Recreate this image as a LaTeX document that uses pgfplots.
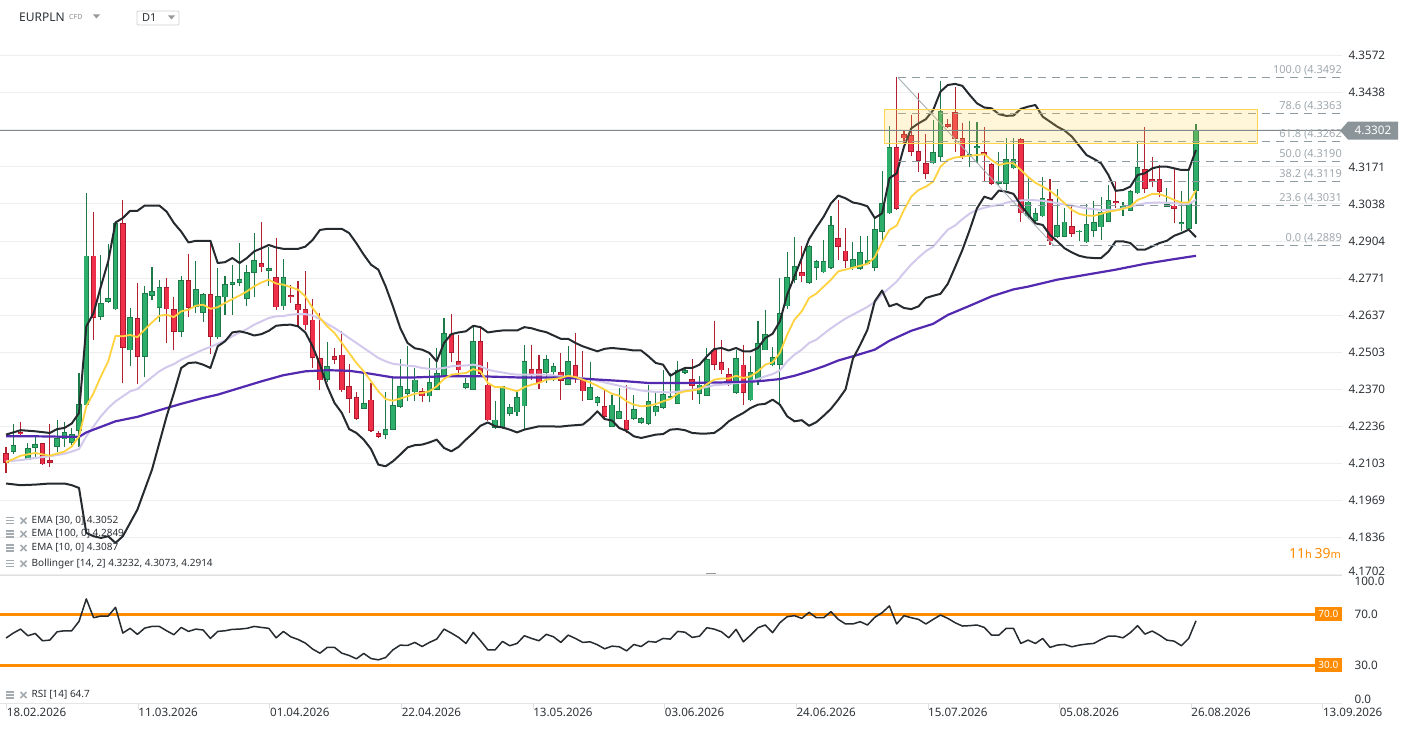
\documentclass[border=0pt]{standalone}
\usepackage{fontspec}
\setmainfont{Noto Sans}
\usepackage{pgfplots}
\usepackage{pgfplotstable}
\pgfplotsset{compat=1.18}

\definecolor{gfill}{HTML}{2DAE6A}
\definecolor{gedge}{HTML}{1D7A48}
\definecolor{rfill}{HTML}{F0304A}
\definecolor{redge}{HTML}{A8192B}
\definecolor{gwick}{HTML}{1D7A48}
\definecolor{rwick}{HTML}{B3202F}
\definecolor{ema10}{HTML}{FFD23F}
\definecolor{ema30}{HTML}{D3C9EC}
\definecolor{ema100}{HTML}{5329B0}
\definecolor{boll}{HTML}{252A2F}
\definecolor{gridc}{HTML}{EEEEEE}
\definecolor{fibc}{HTML}{8F9BA2}
\definecolor{fibt}{HTML}{A0A9AE}
\definecolor{zone}{HTML}{FFD54F}
\definecolor{pricec}{HTML}{7F8A8F}
\definecolor{tagc}{HTML}{8A9499}
\definecolor{rsio}{HTML}{FF8C00}
\definecolor{txt}{HTML}{2E3338}
\definecolor{icon}{HTML}{A3ABB0}
\definecolor{rsiline}{HTML}{262B30}

\pgfplotstableread{
k o h l c
2 4.2146 4.2244 4.2138 4.2170
4 4.2116 4.2176 4.2114 4.2158
5 4.2160 4.2200 4.2128 4.2172
8 4.2162 4.2260 4.2146 4.2194
9 4.2190 4.2254 4.2164 4.2216
10 4.2176 4.2230 4.2170 4.2208
11 4.2220 4.2430 4.2164 4.2316
12 4.2312 4.3076 4.2310 4.2852
14 4.2632 4.2854 4.2620 4.2680
15 4.2686 4.2892 4.2680 4.2698
16 4.2658 4.2970 4.2656 4.2968
18 4.2510 4.2662 4.2454 4.2630
20 4.2488 4.2742 4.2414 4.2716
21 4.2708 4.2812 4.2692 4.2724
22 4.2662 4.2764 4.2614 4.2738
25 4.2578 4.2778 4.2560 4.2764
27 4.2668 4.2834 4.2644 4.2730
28 4.2646 4.2716 4.2614 4.2714
30 4.2557 4.2807 4.2551 4.2705
31 4.2701 4.2777 4.2639 4.2749
32 4.2745 4.2818 4.2639 4.2756
33 4.2752 4.2896 4.2741 4.2767
34 4.2695 4.2818 4.2671 4.2793
35 4.2789 4.2932 4.2701 4.2835
37 4.2798 4.2884 4.2741 4.2807
39 4.2669 4.2839 4.2657 4.2774
45 4.2405 4.2539 4.2395 4.2453
50 4.2299 4.2431 4.2299 4.2321
53 4.2207 4.2360 4.2191 4.2227
54 4.2225 4.2417 4.2222 4.2312
55 4.2307 4.2479 4.2303 4.2381
56 4.2354 4.2525 4.2327 4.2371
57 4.2359 4.2447 4.2327 4.2405
59 4.2345 4.2483 4.2324 4.2396
60 4.2369 4.2519 4.2366 4.2429
61 4.2417 4.2627 4.2414 4.2573
64 4.2375 4.2411 4.2371 4.2393
65 4.2369 4.2599 4.2366 4.2545
68 4.2231 4.2329 4.2229 4.2261
69 4.2231 4.2383 4.2229 4.2381
70 4.2281 4.2318 4.2273 4.2306
71 4.2287 4.2366 4.2273 4.2342
72 4.2309 4.2531 4.2229 4.2473
75 4.2429 4.2495 4.2393 4.2479
76 4.2431 4.2465 4.2399 4.2455
78 4.2387 4.2525 4.2384 4.2473
81 4.2333 4.2467 4.2330 4.2378
82 4.2321 4.2347 4.2309 4.2341
84 4.2235 4.2351 4.2235 4.2315
85 4.2263 4.2375 4.2263 4.2293
87 4.2263 4.2351 4.2261 4.2299
88 4.2249 4.2269 4.2247 4.2267
89 4.2245 4.2387 4.2243 4.2329
90 4.2287 4.2363 4.2273 4.2311
91 4.2303 4.2438 4.2299 4.2354
92 4.2339 4.2429 4.2333 4.2345
93 4.2318 4.2471 4.2318 4.2438
94 4.2429 4.2446 4.2426 4.2438
96 4.2353 4.2417 4.2318 4.2387
97 4.2347 4.2519 4.2345 4.2479
101 4.2357 4.2513 4.2355 4.2483
103 4.2330 4.2491 4.2327 4.2432
104 4.2405 4.2615 4.2387 4.2537
105 4.2510 4.2657 4.2510 4.2569
106 4.2456 4.2521 4.2453 4.2486
107 4.2459 4.2771 4.2309 4.2645
108 4.2669 4.2863 4.2659 4.2774
109 4.2765 4.2920 4.2753 4.2815
111 4.2753 4.2891 4.2750 4.2887
112 4.2807 4.2837 4.2765 4.2833
113 4.2791 4.2908 4.2789 4.2833
114 4.2807 4.2995 4.2804 4.2962
117 4.2807 4.2899 4.2801 4.2839
118 4.2803 4.2921 4.2801 4.2863
119 4.2822 4.2921 4.2819 4.2837
120 4.2807 4.2983 4.2795 4.2947
121 4.2936 4.3157 4.2903 4.3040
122 4.3004 4.3319 4.3002 4.3242
128 4.3184 4.3340 4.3182 4.3224
129 4.3208 4.3481 4.3187 4.3373
133 4.3208 4.3337 4.3169 4.3217
134 4.3238 4.3334 4.3184 4.3247
137 4.3109 4.3226 4.3106 4.3118
138 4.3109 4.3274 4.3088 4.3199
139 4.3166 4.3274 4.3163 4.3199
141 4.2993 4.3130 4.2983 4.3046
142 4.2978 4.3022 4.2974 4.3004
143 4.2993 4.3136 4.2990 4.3059
145 4.2918 4.3091 4.2915 4.2962
146 4.2918 4.3022 4.2917 4.2974
148 4.2936 4.2945 4.2903 4.2942
149 4.2899 4.3038 4.2897 4.2966
150 4.2942 4.3047 4.2920 4.2972
151 4.2953 4.3064 4.2909 4.3010
152 4.2972 4.3106 4.2971 4.3052
154 4.3020 4.3043 4.2993 4.3032
155 4.3014 4.3089 4.3014 4.3085
156 4.3076 4.3259 4.3074 4.3170
160 4.3028 4.3094 4.3028 4.3037
162 4.2965 4.3085 4.2939 4.2972
163 4.2948 4.3155 4.2947 4.3041
164 4.3086 4.3326 4.2966 4.3302
}\up

\pgfplotstableread{
k o h l c
1 4.2140 4.2164 4.2070 4.2104
3 4.2216 4.2252 4.2206 4.2208
6 4.2176 4.2178 4.2098 4.2100
7 4.2116 4.2244 4.2092 4.2106
13 4.2852 4.3008 4.2546 4.2626
17 4.2968 4.3052 4.2392 4.2518
19 4.2626 4.2752 4.2390 4.2488
23 4.2738 4.2770 4.2536 4.2658
24 4.2658 4.2702 4.2510 4.2578
26 4.2764 4.2858 4.2632 4.2664
29 4.2714 4.2902 4.2498 4.2558
36 4.2825 4.2972 4.2791 4.2809
38 4.2774 4.2914 4.2657 4.2665
40 4.2709 4.2747 4.2681 4.2701
41 4.2677 4.2759 4.2597 4.2654
42 4.2659 4.2795 4.2585 4.2600
43 4.2621 4.2695 4.2447 4.2483
44 4.2483 4.2645 4.2366 4.2402
46 4.2491 4.2519 4.2462 4.2477
47 4.2495 4.2581 4.2359 4.2366
48 4.2383 4.2461 4.2285 4.2335
49 4.2342 4.2359 4.2261 4.2263
51 4.2333 4.2393 4.2215 4.2219
52 4.2213 4.2221 4.2195 4.2199
58 4.2365 4.2375 4.2324 4.2345
62 4.2569 4.2641 4.2467 4.2501
63 4.2473 4.2567 4.2423 4.2438
66 4.2545 4.2597 4.2422 4.2426
67 4.2387 4.2467 4.2255 4.2258
73 4.2444 4.2531 4.2405 4.2423
74 4.2444 4.2495 4.2371 4.2393
77 4.2432 4.2501 4.2330 4.2401
79 4.2458 4.2573 4.2393 4.2411
80 4.2411 4.2507 4.2327 4.2363
83 4.2311 4.2371 4.2267 4.2271
86 4.2261 4.2387 4.2213 4.2225
95 4.2407 4.2479 4.2333 4.2383
98 4.2513 4.2617 4.2441 4.2459
99 4.2468 4.2549 4.2426 4.2438
100 4.2425 4.2447 4.2383 4.2399
102 4.2459 4.2528 4.2315 4.2357
110 4.2792 4.2888 4.2755 4.2777
115 4.2914 4.3052 4.2836 4.2884
116 4.2870 4.2950 4.2807 4.2834
123 4.3242 4.3496 4.3015 4.3019
124 4.3290 4.3304 4.3256 4.3274
125 4.3286 4.3358 4.3211 4.3224
126 4.3229 4.3436 4.3154 4.3194
127 4.3184 4.3290 4.3127 4.3145
130 4.3326 4.3343 4.3310 4.3316
131 4.3368 4.3458 4.3223 4.3271
132 4.3274 4.3328 4.3200 4.3212
135 4.3223 4.3316 4.3122 4.3214
136 4.3181 4.3184 4.3106 4.3109
140 4.3271 4.3274 4.2974 4.3004
144 4.3055 4.3128 4.2891 4.2903
147 4.2959 4.3034 4.2920 4.2930
153 4.3049 4.3118 4.3022 4.3040
157 4.3163 4.3316 4.3076 4.3091
158 4.3128 4.3205 4.3100 4.3116
159 4.3128 4.3178 4.3064 4.3080
161 4.3032 4.3166 4.2968 4.3019
}\down

\pgfplotstableread{
k v
1 4.2207
3 4.2223
5 4.2219
7 4.2213
8 4.2227
9 4.2231
10 4.2247
11 4.2285
12 4.2597
13 4.2645
14 4.2741
15 4.2831
16 4.2971
17 4.2987
18 4.3013
19 4.3013
20 4.3032
22 4.3032
23 4.3010
24 4.2969
25 4.2938
26 4.2899
27 4.2905
29 4.2905
30 4.2825
31 4.2828
32 4.2843
33 4.2825
34 4.2843
35 4.2867
36 4.2878
37 4.2890
38 4.2881
39 4.2876
41 4.2876
42 4.2884
43 4.2908
44 4.2944
45 4.2948
47 4.2948
48 4.2933
49 4.2896
50 4.2855
51 4.2819
52 4.2801
53 4.2741
54 4.2669
55 4.2591
56 4.2537
57 4.2518
58 4.2513
59 4.2501
60 4.2471
61 4.2537
62 4.2569
63 4.2575
64 4.2579
65 4.2599
66 4.2594
67 4.2575
68 4.2579
69 4.2582
71 4.2582
72 4.2594
73 4.2590
74 4.2582
75 4.2576
76 4.2564
77 4.2552
78 4.2552
79 4.2537
80 4.2525
81 4.2516
82 4.2507
83 4.2516
84 4.2519
86 4.2514
87 4.2510
88 4.2510
89 4.2489
90 4.2465
91 4.2459
92 4.2419
93 4.2435
94 4.2447
95 4.2447
96 4.2459
97 4.2489
98 4.2515
99 4.2519
100 4.2510
101 4.2519
102 4.2507
103 4.2507
104 4.2519
105 4.2555
106 4.2570
107 4.2615
108 4.2711
109 4.2777
110 4.2843
111 4.2911
112 4.2953
113 4.2992
114 4.3040
115 4.3068
116 4.3058
117 4.3043
118 4.3038
119 4.3029
120 4.2987
121 4.3004
122 4.3130
123 4.3148
124 4.3244
125 4.3310
126 4.3328
127 4.3343
128 4.3376
129 4.3442
130 4.3466
131 4.3470
132 4.3463
133 4.3430
134 4.3400
135 4.3385
136 4.3382
137 4.3361
138 4.3355
139 4.3356
140 4.3380
141 4.3388
142 4.3394
143 4.3352
144 4.3334
145 4.3316
146 4.3302
147 4.3280
148 4.3247
149 4.3214
150 4.3200
151 4.3184
152 4.3142
153 4.3085
154 4.3088
155 4.3100
156 4.3142
157 4.3148
158 4.3166
159 4.3172
160 4.3172
161 4.3166
162 4.3160
163 4.3160
164 4.3232
}\bollup

\pgfplotstableread{
k v
1 4.2031
3 4.2025
5 4.2027
7 4.2031
9 4.2031
10 4.2025
11 4.2015
12 4.1853
13 4.1841
14 4.1835
15 4.1841
16 4.1817
17 4.1841
18 4.1889
19 4.1937
20 4.2009
21 4.2081
22 4.2177
23 4.2273
24 4.2357
25 4.2447
26 4.2465
27 4.2467
28 4.2459
29 4.2447
30 4.2525
31 4.2543
32 4.2575
33 4.2579
34 4.2573
35 4.2564
36 4.2569
37 4.2581
38 4.2599
39 4.2602
40 4.2603
41 4.2597
42 4.2575
43 4.2525
44 4.2459
45 4.2381
46 4.2321
47 4.2285
48 4.2227
49 4.2213
50 4.2189
51 4.2155
52 4.2099
53 4.2093
54 4.2111
55 4.2135
56 4.2161
57 4.2169
58 4.2171
59 4.2179
60 4.2189
61 4.2159
62 4.2147
63 4.2163
64 4.2189
65 4.2213
66 4.2239
67 4.2251
68 4.2237
69 4.2233
70 4.2225
71 4.2215
72 4.2225
73 4.2231
74 4.2237
77 4.2236
78 4.2239
80 4.2243
81 4.2264
82 4.2291
83 4.2263
84 4.2258
85 4.2231
86 4.2220
87 4.2201
88 4.2195
89 4.2201
90 4.2207
91 4.2209
92 4.2225
93 4.2227
94 4.2223
95 4.2213
96 4.2211
97 4.2211
98 4.2213
99 4.2231
100 4.2255
101 4.2271
102 4.2285
103 4.2303
104 4.2315
105 4.2318
106 4.2333
107 4.2315
108 4.2273
109 4.2255
110 4.2259
111 4.2239
112 4.2252
113 4.2275
114 4.2300
115 4.2333
116 4.2370
117 4.2480
118 4.2530
119 4.2585
120 4.2687
121 4.2726
122 4.2669
123 4.2678
124 4.2663
125 4.2659
126 4.2669
127 4.2699
128 4.2707
129 4.2714
130 4.2750
131 4.2810
132 4.2872
133 4.2944
134 4.3022
135 4.3064
136 4.3055
137 4.3086
138 4.3082
139 4.3074
140 4.3034
141 4.3000
142 4.2968
143 4.2962
144 4.2926
145 4.2903
146 4.2878
147 4.2863
148 4.2851
149 4.2845
150 4.2843
151 4.2843
152 4.2866
153 4.2903
154 4.2903
155 4.2897
156 4.2873
157 4.2873
158 4.2885
159 4.2897
160 4.2905
161 4.2923
162 4.2933
163 4.2945
164 4.2918
}\bolllo

\pgfplotstableread{
k v
1 4.2107
3 4.2131
5 4.2141
7 4.2131
9 4.2146
10 4.2164
11 4.2201
12 4.2309
13 4.2357
14 4.2417
15 4.2471
16 4.2563
17 4.2561
18 4.2566
19 4.2558
20 4.2585
21 4.2611
22 4.2635
23 4.2639
24 4.2630
25 4.2651
26 4.2657
27 4.2671
28 4.2675
29 4.2660
30 4.2666
31 4.2681
32 4.2695
33 4.2708
34 4.2723
35 4.2741
36 4.2755
37 4.2765
38 4.2751
39 4.2747
40 4.2738
41 4.2729
42 4.2705
43 4.2663
44 4.2627
45 4.2597
46 4.2573
47 4.2537
48 4.2501
49 4.2465
50 4.2435
51 4.2399
52 4.2363
53 4.2335
54 4.2329
55 4.2337
56 4.2345
57 4.2354
58 4.2357
59 4.2363
60 4.2381
61 4.2408
62 4.2423
63 4.2426
64 4.2429
65 4.2443
66 4.2435
67 4.2393
68 4.2378
69 4.2378
70 4.2371
71 4.2363
72 4.2378
73 4.2387
74 4.2393
75 4.2405
76 4.2407
77 4.2411
78 4.2419
79 4.2414
80 4.2405
81 4.2395
82 4.2383
83 4.2369
84 4.2354
85 4.2347
86 4.2327
87 4.2315
88 4.2309
89 4.2311
90 4.2317
91 4.2327
92 4.2335
93 4.2355
94 4.2363
95 4.2366
96 4.2371
97 4.2389
98 4.2405
99 4.2409
100 4.2409
101 4.2419
102 4.2411
103 4.2417
104 4.2435
105 4.2459
106 4.2467
107 4.2501
108 4.2567
109 4.2621
110 4.2651
111 4.2699
112 4.2715
113 4.2740
114 4.2765
115 4.2795
117 4.2808
119 4.2822
120 4.2846
121 4.2900
122 4.2944
123 4.2960
124 4.3016
125 4.3064
126 4.3088
127 4.3100
128 4.3118
129 4.3172
130 4.3196
131 4.3205
132 4.3208
133 4.3211
134 4.3214
135 4.3217
136 4.3196
137 4.3178
138 4.3184
139 4.3184
140 4.3160
141 4.3135
142 4.3114
143 4.3100
144 4.3085
145 4.3064
146 4.3040
147 4.3016
148 4.3002
149 4.2996
150 4.2995
151 4.3002
152 4.3010
153 4.3014
154 4.3020
155 4.3028
156 4.3052
157 4.3062
158 4.3074
159 4.3073
160 4.3064
161 4.3052
162 4.3043
163 4.3043
164 4.3087
}\ematen

\pgfplotstableread{
k v
1 4.2111
3 4.2115
5 4.2123
7 4.2129
9 4.2138
10 4.2146
11 4.2155
12 4.2201
13 4.2237
14 4.2273
15 4.2303
16 4.2327
17 4.2345
18 4.2363
19 4.2371
20 4.2393
21 4.2414
22 4.2435
23 4.2450
24 4.2461
25 4.2477
26 4.2489
27 4.2501
28 4.2513
29 4.2523
30 4.2534
31 4.2546
32 4.2561
33 4.2575
34 4.2587
35 4.2603
36 4.2615
37 4.2627
38 4.2633
39 4.2634
40 4.2639
41 4.2641
42 4.2641
43 4.2636
44 4.2623
45 4.2606
46 4.2591
47 4.2573
48 4.2555
49 4.2537
50 4.2519
51 4.2501
52 4.2483
53 4.2471
54 4.2462
55 4.2459
56 4.2455
57 4.2453
58 4.2447
59 4.2444
60 4.2444
61 4.2447
62 4.2453
63 4.2455
64 4.2456
65 4.2459
66 4.2453
67 4.2441
68 4.2435
69 4.2431
70 4.2426
71 4.2423
75 4.2423
76 4.2420
77 4.2417
78 4.2414
79 4.2413
80 4.2411
81 4.2407
82 4.2401
83 4.2395
84 4.2389
85 4.2383
86 4.2377
87 4.2371
88 4.2366
89 4.2363
90 4.2361
92 4.2359
93 4.2361
94 4.2366
95 4.2369
96 4.2373
97 4.2379
98 4.2385
99 4.2387
100 4.2389
101 4.2393
102 4.2395
103 4.2399
104 4.2407
105 4.2417
106 4.2425
107 4.2438
108 4.2471
109 4.2495
110 4.2513
111 4.2537
112 4.2549
113 4.2570
114 4.2590
115 4.2608
116 4.2625
117 4.2639
118 4.2653
119 4.2667
120 4.2685
121 4.2713
122 4.2735
123 4.2758
124 4.2790
125 4.2820
126 4.2845
127 4.2868
128 4.2884
129 4.2915
130 4.2945
131 4.2960
132 4.2983
133 4.3003
134 4.3016
135 4.3024
136 4.3030
137 4.3034
138 4.3042
139 4.3048
140 4.3050
141 4.3052
142 4.3051
143 4.3049
144 4.3045
145 4.3040
146 4.3036
147 4.3032
148 4.3027
149 4.3022
150 4.3019
151 4.3016
152 4.3016
153 4.3016
154 4.3022
155 4.3028
156 4.3034
157 4.3040
158 4.3042
159 4.3043
160 4.3042
161 4.3040
162 4.3039
163 4.3038
164 4.3052
}\ematty

\pgfplotstableread{
k v
1 4.2201
5 4.2201
10 4.2199
11 4.2199
12 4.2215
14 4.2235
16 4.2255
19 4.2271
22 4.2295
25 4.2318
28 4.2339
30 4.2351
33 4.2375
36 4.2399
39 4.2421
42 4.2435
45 4.2439
48 4.2437
51 4.2426
54 4.2413
57 4.2413
61 4.2417
66 4.2417
71 4.2413
76 4.2413
81 4.2407
86 4.2399
89 4.2393
94 4.2393
99 4.2395
104 4.2399
107 4.2407
109 4.2419
111 4.2435
113 4.2453
115 4.2474
117 4.2489
120 4.2513
122 4.2545
125 4.2581
128 4.2606
130 4.2638
133 4.2671
136 4.2705
139 4.2730
141 4.2740
145 4.2765
149 4.2783
153 4.2801
157 4.2822
161 4.2839
164 4.2851
}\emahund

\pgfplotstableread{
k v
1 51.2
2 55.1
3 58.2
4 53.0
5 54.8
6 49.1
7 49.6
8 56.1
9 56.9
10 56.9
11 64.2
12 81.8
13 67.1
14 68.4
15 68.4
16 75.2
17 55.1
18 58.8
19 54.1
20 59.0
21 60.3
22 60.3
23 56.9
24 53.8
25 59.5
26 56.4
27 58.2
28 57.5
29 50.9
30 56.4
31 56.9
32 58.0
33 58.2
34 58.8
35 60.3
36 59.5
37 58.8
38 51.4
39 56.4
40 52.2
41 50.1
42 47.3
43 42.6
44 39.4
45 43.9
46 43.9
47 39.4
48 37.6
49 35.0
50 39.2
51 35.2
52 34.2
53 36.0
54 42.0
55 45.7
56 45.4
57 47.8
58 44.6
59 47.8
60 50.4
61 58.2
62 55.1
63 51.7
64 47.0
65 55.6
66 49.1
67 42.0
68 42.0
69 48.6
70 45.2
71 47.0
72 53.0
73 50.9
74 49.1
75 54.1
76 52.2
77 47.8
78 53.5
79 50.9
80 47.8
81 48.3
82 46.0
83 42.8
84 44.9
85 44.4
86 41.2
87 46.2
88 44.6
89 48.6
90 48.0
91 50.9
92 50.4
93 56.4
94 55.8
95 51.7
96 52.7
97 59.3
98 58.2
99 56.1
100 51.4
101 58.0
102 48.3
103 53.5
104 59.3
105 61.4
106 55.4
107 63.2
108 67.9
109 68.7
110 66.6
111 71.3
112 67.1
113 67.1
114 71.8
115 65.8
116 62.2
117 62.2
118 64.0
119 61.4
120 67.4
121 71.0
122 76.3
123 62.2
124 68.7
125 67.1
126 65.8
127 62.2
128 65.8
129 69.2
130 66.6
131 63.2
132 60.6
133 60.9
134 61.4
135 59.5
136 53.5
137 53.5
138 58.8
139 58.8
140 47.0
141 49.6
142 47.0
143 50.9
144 43.9
145 45.7
146 46.2
147 44.4
148 45.7
149 46.5
150 47.0
151 50.1
152 52.7
153 52.7
154 51.4
155 55.4
156 60.9
157 54.3
158 56.7
159 53.5
160 49.6
161 48.8
162 45.2
163 50.9
164 64.7
}\rsi

% draws one candle per table row as ordinary pgfplots line plots
\newcommand{\candles}[4]{%
  \pgfplotstablegetrowsof{#1}%
  \pgfmathtruncatemacro{\nrows}{\pgfplotsretval-1}%
  \pgfplotsforeachungrouped \i in {0,...,\nrows}{%
    \pgfplotstablegetelem{\i}{k}\of{#1}\let\cK\pgfplotsretval
    \pgfplotstablegetelem{\i}{o}\of{#1}\let\cO\pgfplotsretval
    \pgfplotstablegetelem{\i}{h}\of{#1}\let\cH\pgfplotsretval
    \pgfplotstablegetelem{\i}{l}\of{#1}\let\cL\pgfplotsretval
    \pgfplotstablegetelem{\i}{c}\of{#1}\let\cC\pgfplotsretval
    \edef\next{%
      \noexpand\addplot[#2, line width=1.1pt, forget plot] coordinates {(\cK,\cL) (\cK,\cH)};%
      \noexpand\addplot[#3, line width=5.6pt, forget plot] coordinates {(\cK,\cO) (\cK,\cC)};%
      \noexpand\addplot[#4, line width=3.8pt, forget plot, shorten <=0.8pt, shorten >=0.8pt] coordinates {(\cK,\cO) (\cK,\cC)};%
    }\next
  }%
}

\newcommand{\legicon}[1]{%
  \draw[icon, line width=1.1pt] (6,#1+3) -- (14,#1+3);
  \draw[icon, line width=1.1pt] (6,#1) -- (14,#1);
  \draw[icon, line width=1.1pt] (6,#1-3) -- (14,#1-3);
  \draw[icon, line width=1.6pt] (20.5,#1+3) -- (26.5,#1-3);
  \draw[icon, line width=1.6pt] (20.5,#1-3) -- (26.5,#1+3);
}

\begin{document}
\begin{tikzpicture}[x=1pt,y=1pt]
\fill[white] (0,0) rectangle (1410,729);
\useasboundingbox (0,0) rectangle (1410,729);

% ---------------- main price panel ----------------
\begin{axis}[
  at={(0pt,154pt)}, anchor=south west,
  scale only axis, width=1342pt, height=540pt,
  xmin=0.178, xmax=184, ymin=4.17015, ymax=4.36461,
  axis line style={draw=none},
  xtick=\empty,
  ytick={4.1836,4.1969,4.2103,4.2236,4.2370,4.2503,4.2637,4.2771,4.2904,4.3038,4.3171,4.3305,4.3438,4.3572},
  yticklabels={4.1836,4.1969,4.2103,4.2236,4.2370,4.2503,4.2637,4.2771,4.2904,4.3038,4.3171,{},4.3438,4.3572},
  extra y ticks={4.1702}, extra y tick labels={4.1702},
  extra y tick style={yticklabel style={yshift=4pt}},
  yticklabel pos=right,
  ymajorgrids, major grid style={gridc, line width=0.9pt},
  major tick length=0pt,
  yticklabel style={font=\fontsize{11.7}{14}\selectfont, text=txt, anchor=west, xshift=3pt},
  /pgf/number format/assume math mode=true,
  clip=false,
]
\candles{\up}{gwick}{gedge}{gfill}
\candles{\down}{rwick}{redge}{rfill}

% indicator lines
\addplot[ema30, line width=2pt, line join=round] table[x=k, y=v] {\ematty};
\addplot[ema100, line width=2.2pt, line join=round] table[x=k, y=v] {\emahund};
\addplot[ema10, line width=1.8pt, line join=round] table[x=k, y=v] {\ematen};
\addplot[boll, line width=2pt, line join=round] table[x=k, y=v] {\bollup};
\addplot[boll, line width=2pt, line join=round] table[x=k, y=v] {\bolllo};

% Fibonacci retracement
\addplot[fibc, line width=1.1pt, dash pattern=on 8pt off 6pt] coordinates {(123.2,4.3492) (184,4.3492)};
\addplot[fibc, line width=1.1pt, dash pattern=on 8pt off 6pt] coordinates {(123.2,4.3363) (184,4.3363)};
\addplot[fibc, line width=1.1pt, dash pattern=on 8pt off 6pt] coordinates {(123.2,4.3262) (184,4.3262)};
\addplot[fibc, line width=1.1pt, dash pattern=on 8pt off 6pt] coordinates {(123.2,4.3190) (184,4.3190)};
\addplot[fibc, line width=1.1pt, dash pattern=on 8pt off 6pt] coordinates {(123.2,4.3119) (184,4.3119)};
\addplot[fibc, line width=1.1pt, dash pattern=on 8pt off 6pt] coordinates {(123.2,4.3031) (184,4.3031)};
\addplot[fibc, line width=1.1pt, dash pattern=on 8pt off 6pt] coordinates {(123.2,4.2889) (184,4.2889)};
\addplot[fibc!80, line width=0.9pt] coordinates {(123.2,4.3492) (144.5,4.2889)};

% resistance zone
\addplot[draw=zone, line width=1.2pt, fill=zone, fill opacity=0.22] coordinates {(121.3,4.3255) (172.4,4.3255) (172.4,4.3379) (121.3,4.3379) (121.3,4.3255)};

% current price line
\addplot[pricec, line width=1pt] coordinates {(0.178,4.3302) (184,4.3302)};

\node[anchor=base east, inner sep=0pt, yshift=4pt, font=\fontsize{11}{13}\selectfont, text=fibt] at (axis cs:184,4.3492) {100.0 (4.3492};
\node[anchor=base east, inner sep=0pt, yshift=4pt, font=\fontsize{11}{13}\selectfont, text=fibt] at (axis cs:184,4.3363) {78.6 (4.3363};
\node[anchor=base east, inner sep=0pt, yshift=4pt, font=\fontsize{11}{13}\selectfont, text=fibt] at (axis cs:184,4.3262) {61.8 (4.3262};
\node[anchor=base east, inner sep=0pt, yshift=4pt, font=\fontsize{11}{13}\selectfont, text=fibt] at (axis cs:184,4.3190) {50.0 (4.3190};
\node[anchor=base east, inner sep=0pt, yshift=4pt, font=\fontsize{11}{13}\selectfont, text=fibt] at (axis cs:184,4.3119) {38.2 (4.3119};
\node[anchor=base east, inner sep=0pt, yshift=4pt, font=\fontsize{11}{13}\selectfont, text=fibt] at (axis cs:184,4.3031) {23.6 (4.3031};
\node[anchor=base east, inner sep=0pt, yshift=4pt, font=\fontsize{11}{13}\selectfont, text=fibt] at (axis cs:184,4.2889) {0.0 (4.2889};
\coordinate (tagpt) at (axis cs:184,4.3302);
\end{axis}

% price tag
\fill[tagc] ([xshift=-2pt]tagpt) -- ++(8,9) -- ++(50,0) -- ++(0,-18) -- ++(-50,0) -- cycle;
\node[text=white, font=\fontsize{11.7}{14}\selectfont, anchor=center] at ([xshift=31pt]tagpt) {4.3302};

% ---------------- RSI panel ----------------
\begin{axis}[
  at={(0pt,25.4pt)}, anchor=south west,
  scale only axis, width=1342pt, height=128pt,
  xmin=0.178, xmax=184, ymin=0, ymax=100,
  axis line style={draw=none},
  ytick={3.5,30,70,95.2}, yticklabels={0.0,30.0,70.0,100.0},
  yticklabel pos=right,
  ytick style={draw=none},
  yticklabel style={font=\fontsize{11.7}{14}\selectfont, text=txt, anchor=west, xshift=4pt},
  xtick={1.10,19.12,37.15,55.18,73.20,91.23,109.26,127.29,145.31,163.34,181.37},
  xticklabels={18.02.2026,11.03.2026,01.04.2026,22.04.2026,13.05.2026,03.06.2026,24.06.2026,15.07.2026,05.08.2026,26.08.2026,13.09.2026},
  xtick pos=bottom, tick align=outside,
  major tick length=5pt,
  xtick style={draw=black!12, line width=0.9pt},
  xticklabel style={font=\fontsize{11.6}{14}\selectfont, text=txt, anchor=north west, inner sep=0pt, yshift=1pt},
  /pgf/number format/assume math mode=true,
  clip=false,
]
\addplot[rsio, line width=3pt] coordinates {(0.178,70) (180.3,70)};
\addplot[rsio, line width=3pt] coordinates {(0.178,30) (180.3,30)};
\addplot[rsiline, line width=1.5pt, line join=round] table[x=k, y=v] {\rsi};
\coordinate (o70) at (axis cs:184,70);
\coordinate (o30) at (axis cs:184,30);
\end{axis}
\node[fill=rsio, text=white, anchor=east, inner sep=0pt, minimum width=27pt, minimum height=14pt, font=\fontsize{10}{12}\selectfont] at (o70) {70.0};
\node[fill=rsio, text=white, anchor=east, inner sep=0pt, minimum width=27pt, minimum height=14pt, font=\fontsize{10}{12}\selectfont] at (o30) {30.0};

% separators
\draw[black!12, line width=0.9pt] (0,154) -- (1342,154);
\draw[black!40, line width=0.8pt] (706,155.5) -- (716,155.5);
\draw[black!10, line width=0.9pt] (0,25.4) -- (1342,25.4);

% header
\node[anchor=west, inner sep=0pt, font=\bfseries\fontsize{12}{14}\selectfont, text=txt] at (19,712) {EURPLN};
\node[anchor=west, inner sep=0pt, font=\fontsize{7}{8}\selectfont, text=black!45] at (69,711.5) {CFD};
\fill[black!40] (93,714.5) -- (100,714.5) -- (96.5,710.5) -- cycle;
\draw[black!18, line width=0.8pt, rounded corners=1pt] (137,718) rectangle (179,704);
\node[anchor=west, inner sep=0pt, font=\fontsize{11}{13}\selectfont, text=txt] at (142,711) {D1};
\fill[black!40] (168,713.5) -- (175,713.5) -- (171.5,709.5) -- cycle;

% countdown
\node[anchor=east, inner sep=0pt, text=rsio] at (1341,176) {{\fontsize{14}{16}\selectfont 11}{\fontsize{11}{13}\selectfont h} {\fontsize{14}{16}\selectfont 39}{\fontsize{11}{13}\selectfont m}};

% legend
\legicon{208.3}
\node[anchor=west, inner sep=0pt, font=\fontsize{10}{12}\selectfont, text=txt] at (31.5,208.3) {EMA [30, 0] 4.3052};
\legicon{195}
\node[anchor=west, inner sep=0pt, font=\fontsize{10}{12}\selectfont, text=txt] at (31.5,195) {EMA [100, 0] 4.2849};
\legicon{181}
\node[anchor=west, inner sep=0pt, font=\fontsize{10}{12}\selectfont, text=txt] at (31.5,181) {EMA [10, 0] 4.3087};
\legicon{165.3}
\node[anchor=west, inner sep=0pt, font=\fontsize{10}{12}\selectfont, text=txt] at (31.5,165.3) {Bollinger [14, 2] 4.3232, 4.3073, 4.2914};
\legicon{34}
\node[anchor=west, inner sep=0pt, font=\fontsize{10}{12}\selectfont, text=txt] at (31.5,34) {RSI [14] 64.7};
\end{tikzpicture}
\end{document}
